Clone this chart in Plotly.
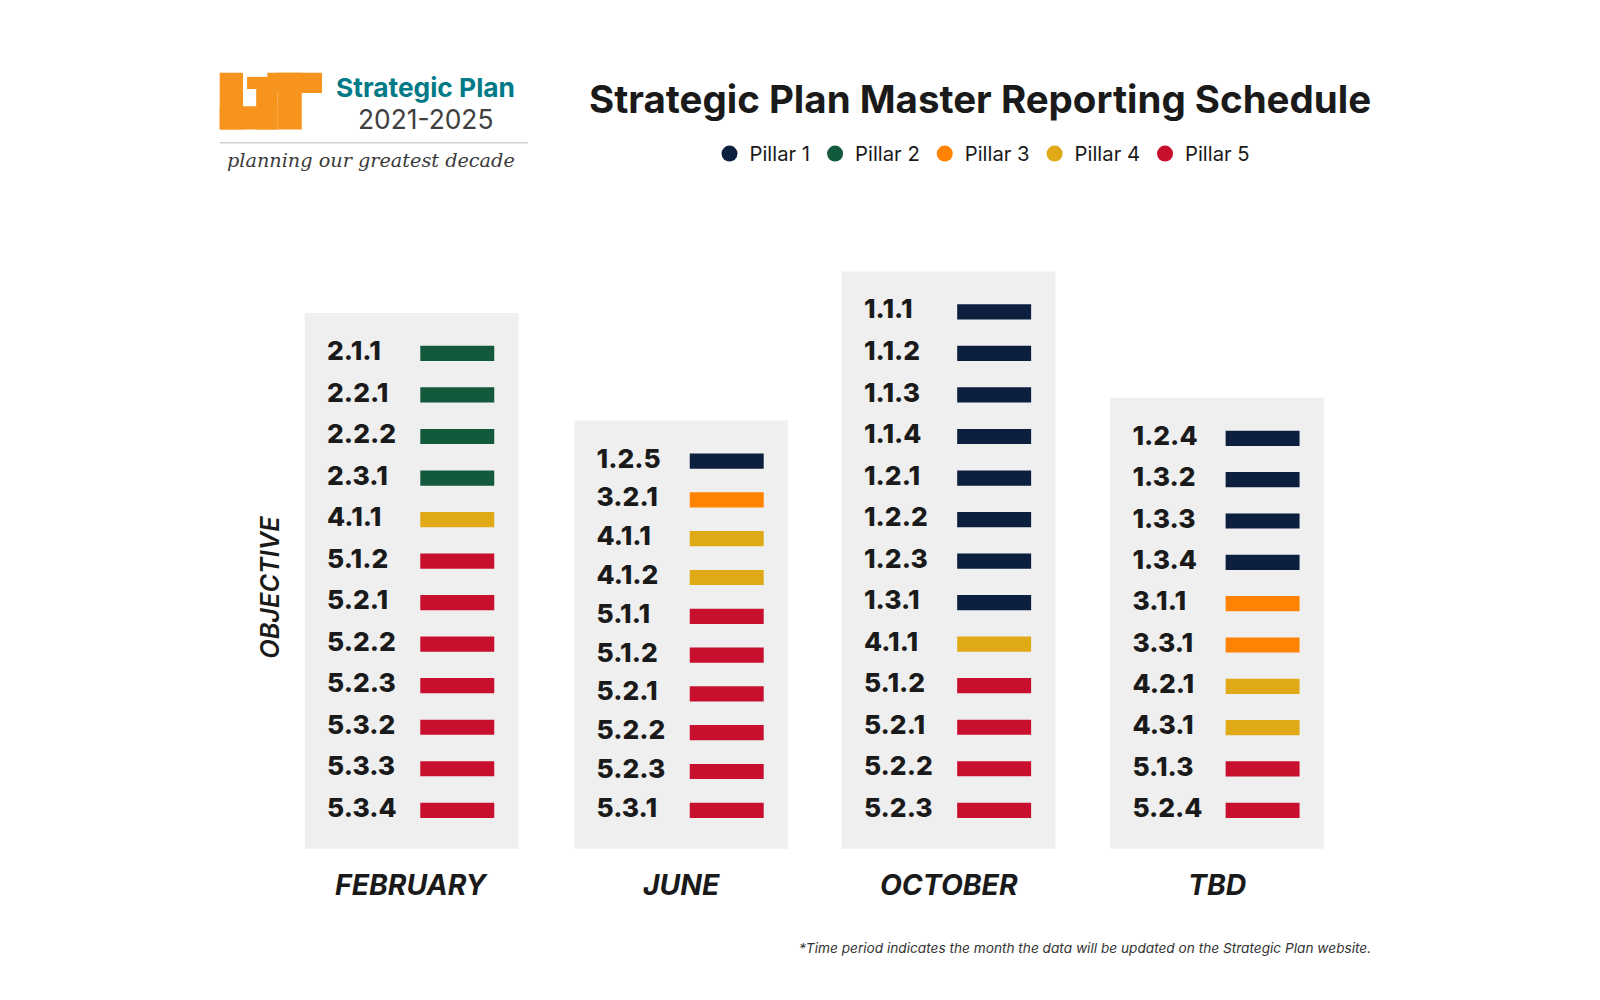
import plotly.graph_objects as go

months = ["FEBRUARY", "JUNE", "OCTOBER", "TBD"]
feb = ["2.1.1","2.2.1","2.2.2","2.3.1","4.1.1","5.1.2","5.2.1","5.2.2","5.2.3","5.3.2","5.3.3","5.3.4"]
jun = ["1.2.5","3.2.1","4.1.1","4.1.2","5.1.1","5.1.2","5.2.1","5.2.2","5.2.3","5.3.1"]
octo = ["1.1.1","1.1.2","1.1.3","1.1.4","1.2.1","1.2.2","1.2.3","1.3.1","4.1.1","5.1.2","5.2.1","5.2.2","5.2.3"]
tbd = ["1.2.4","1.3.2","1.3.3","1.3.4","3.1.1","3.3.1","4.2.1","4.3.1","5.1.3","5.2.4"]
columns = [feb, jun, octo, tbd]
pillars = ["Pillar 1","Pillar 2","Pillar 3","Pillar 4","Pillar 5"]
pillar_colors = ["#0c1f3f","#13593c","#ff8200","#e0aa17","#c8102e"]

K = 1.013
W, H = 1600/K, 1000/K
box_left = [293, 559, 823, 1088]
box_w = 211
bottom_row = 792
row_step = [41, 38.3, 41, 40.8]

fig = go.Figure()
shapes = []
for ci, items in enumerate(columns):
    n = len(items)
    bl = box_left[ci]
    top_row = bottom_row - (n-1)*row_step[ci]
    shapes.append(dict(type="rect", x0=bl, x1=bl+box_w, y0=top_row-40, y1=bottom_row+38,
                       fillcolor="#efefef", line_width=0, layer="below"))
    ys = [top_row + k*row_step[ci] for k in range(n)]
    cols = [pillar_colors[int(c[0])-1] for c in items]
    fig.add_trace(go.Bar(orientation="h", y=ys, base=[bl+114]*n, x=[73]*n, width=15,
                         marker=dict(color=cols, line_width=0), showlegend=False, hoverinfo="skip"))
    fig.add_trace(go.Scatter(x=[bl+22]*n, y=ys, mode="text", text=items, textposition="middle right",
                             textfont=dict(family="Inter", size=26*K, color="#1a1a1a", weight=800),
                             showlegend=False, hoverinfo="skip"))
    fig.add_annotation(x=bl+box_w/2, y=866, text="<i><b>"+months[ci]+"</b></i>", showarrow=False,
                       font=dict(family="Inter", size=28*K, color="#1a1a1a"))

for p, c in zip(pillars, pillar_colors):
    fig.add_trace(go.Scatter(x=[None], y=[None], mode="markers", name=p,
                             marker=dict(color=c, size=20, symbol="circle")))

orange = "#f7941d"
for x0, y0, x1, y1 in [(209,64,232,120),(209,97,266,120),(245,78,266,120),(236,68,260,80),(256,64,310,84),(266,64,290,120)]:
    shapes.append(dict(type="rect", x0=x0, x1=x1, y0=y0, y1=y1, fillcolor=orange, line_width=0))
shapes.append(dict(type="line", x0=209, x1=513, y0=133, y1=133, line=dict(color="#d0d0d0", width=1.5)))
fig.add_annotation(x=412, y=78, text="<b>Strategic Plan</b>", showarrow=False,
                   font=dict(family="Inter", size=26*K, color="#007a86"))
fig.add_annotation(x=412, y=110, text="2021-2025", showarrow=False,
                   font=dict(family="Inter", size=26*K, color="#3f3f3f"))
fig.add_annotation(x=358, y=151, text="<i>planning our greatest decade</i>", showarrow=False,
                   font=dict(family="DejaVu Serif", size=19*K, color="#3a3a3a"))

fig.add_annotation(x=960, y=90, text="<b>Strategic Plan Master Reporting Schedule</b>", showarrow=False,
                   font=dict(family="Inter", size=38*K, color="#1a1a1a"))
fig.add_annotation(x=258, y=572, text="<i>OBJECTIVE</i>", textangle=-90, showarrow=False,
                   font=dict(family="Inter", size=25*K, color="#1a1a1a", weight=600))
fig.add_annotation(x=1347, y=928, xanchor="right",
                   text="<i>*Time period indicates the month the data will be updated on the Strategic Plan website.</i>",
                   showarrow=False, font=dict(family="Inter", size=13.5*K, color="#333"))

fig.update_layout(
    width=1600, height=1000, margin=dict(l=0, r=0, t=0, b=0),
    plot_bgcolor="white", paper_bgcolor="white", shapes=shapes, barmode="overlay",
    xaxis=dict(range=[0, W], visible=False, fixedrange=True),
    yaxis=dict(range=[H, 0], visible=False, fixedrange=True),
    legend=dict(orientation="h", x=962/W, y=1-144/H, xanchor="center", yanchor="middle",
                font=dict(family="Inter", size=20*K, color="#1a1a1a"), itemwidth=30,
                tracegroupgap=0, bgcolor="rgba(0,0,0,0)"),
)
fig.write_html("out.html")
